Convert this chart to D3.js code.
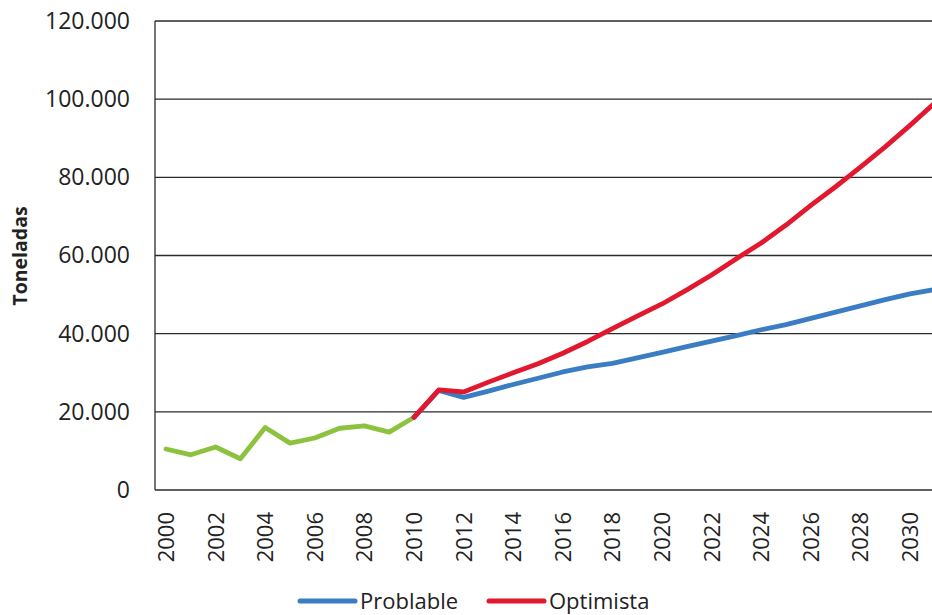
<!DOCTYPE html>
<html>
<head>
<meta charset="utf-8">
<script src="https://cdn.jsdelivr.net/npm/d3@7"></script>
<style>
  html, body { margin: 0; padding: 0; background: #fff; }
  svg { display: block; }
  text { font-family: "Open Sans", "Liberation Sans", sans-serif; fill: #222; }
</style>
</head>
<body>
<svg id="chart" width="932" height="615"></svg>
<script>
// Historical series (2000-2010)
const histYears = d3.range(2000, 2011);
const histValues = [10500, 9000, 11000, 8000, 16000, 12000, 13300, 15800, 16400, 14800, 18600];

// Projections (2010-2031)
const projYears = d3.range(2010, 2032);
const probableValues = [18600, 25500, 23700, 25300, 27000, 28600, 30200, 31500, 32400, 33800, 35200,
  36700, 38100, 39500, 41000, 42300, 43900, 45500, 47100, 48700, 50200, 51300];
const optimistValues = [18600, 25600, 25100, 27600, 30000, 32300, 35000, 38000, 41300, 44500, 47600,
  51200, 55000, 59200, 63200, 67800, 72800, 77600, 82600, 87800, 93300, 99000];

const xTickYears = d3.range(2000, 2031, 2);
const yTickValues = [0, 20000, 40000, 60000, 80000, 100000, 120000];

const seriesNames = ["Problable", "Optimista"];
const colors = { hist: "#8DC23F", probable: "#3B7DC2", optimist: "#E2182F" };

const svg = d3.select("#chart");
const plot = { left: 155, right: 960, top: 21, bottom: 490 };

const x = d3.scaleLinear().domain([2000, 2031]).range([166, 166 + 31 * 24.8]);
const y = d3.scaleLinear().domain([0, 120000]).range([plot.bottom, plot.top]);

const fmt = d3.formatLocale({ decimal: ",", thousands: ".", grouping: [3], currency: ["", ""] }).format(",d");

// Horizontal gridlines
svg.append("g")
  .selectAll("line")
  .data(yTickValues)
  .join("line")
  .attr("x1", plot.left).attr("x2", plot.right)
  .attr("y1", d => y(d)).attr("y2", d => y(d))
  .attr("stroke", "#2a2a2a").attr("stroke-width", 1.3);

// Left axis line
svg.append("line")
  .attr("x1", plot.left).attr("x2", plot.left)
  .attr("y1", plot.top).attr("y2", plot.bottom)
  .attr("stroke", "#2a2a2a").attr("stroke-width", 1.3);

// Y tick labels
const yAxis = d3.axisLeft(y).tickValues(yTickValues).tickFormat(fmt).tickSize(0).tickPadding(25);
const yg = svg.append("g").attr("transform", `translate(${plot.left},0)`).call(yAxis);
yg.select(".domain").remove();
yg.selectAll("text")
  .attr("font-size", 23)
  .attr("fill", "#222")
  .style("font-family", '"Open Sans", sans-serif');

// X tick labels (rotated)
svg.append("g")
  .selectAll("text")
  .data(xTickYears)
  .join("text")
  .attr("transform", d => `translate(${x(d)},512) rotate(-90)`)
  .attr("text-anchor", "end")
  .attr("dy", "0.36em")
  .attr("font-size", 22)
  .text(d => d);

// Y axis title
svg.append("text")
  .attr("transform", "translate(20,256) rotate(-90)")
  .attr("text-anchor", "middle")
  .attr("dy", "0.36em")
  .attr("font-size", 19.5)
  .attr("font-weight", "bold")
  .text("Toneladas");

const line = d3.line().x(d => x(d[0])).y(d => y(d[1]));

function drawSeries(years, values, color) {
  svg.append("path")
    .datum(d3.zip(years, values))
    .attr("d", line)
    .attr("fill", "none")
    .attr("stroke", color)
    .attr("stroke-width", 4.8)
    .attr("stroke-linejoin", "round")
    .attr("stroke-linecap", "round");
}

drawSeries(histYears, histValues, colors.hist);
drawSeries(projYears, probableValues, colors.probable);
drawSeries(projYears, optimistValues, colors.optimist);

// Legend
const legend = svg.append("g").attr("transform", "translate(0,601)");
const legendItems = [
  { name: seriesNames[0], color: colors.probable, x: 300 },
  { name: seriesNames[1], color: colors.optimist, x: 489 }
];
legendItems.forEach(it => {
  legend.append("line")
    .attr("x1", it.x).attr("x2", it.x + 55)
    .attr("y1", 0).attr("y2", 0)
    .attr("stroke", it.color).attr("stroke-width", 5)
    .attr("stroke-linecap", "round");
  legend.append("text")
    .attr("x", it.x + 60)
    .attr("dy", "0.36em")
    .attr("font-size", 22)
    .text(it.name);
});
</script>
</body>
</html>
